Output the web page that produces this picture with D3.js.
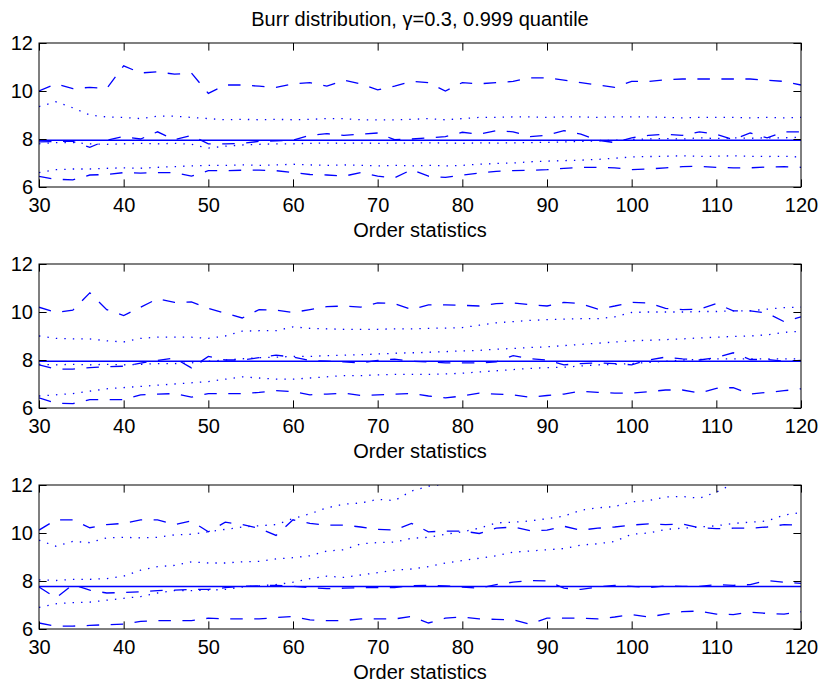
<html>
<head>
    <title>Burr distribution quantile</title>
    <script src="https://d3js.org/d3.v7.min.js"></script>
    <style>
        body { margin:0; background:#fff; }
        text { font-family:"Liberation Sans", Arial, sans-serif; }
    </style>
</head>
<body>
    <svg id="chart" width="823" height="684"></svg>

    <script>
        // order statistics (x axis)
        var orderStat = [30,32,34,36,38, 40,42,44,46,48, 50,52,54,56,58, 60,62,64,66,68,
                         70,72,74,76,78, 80,82,84,86,88, 90,92,94,96,98, 100,102,104,106,108,
                         110,112,114,116,118, 120];

        // true 0.999 quantile for each panel
        var trueQuantile = [7.95, 7.95, 7.77];

        // panel 1
        var p1UpperDash = [10.0,10.3,10.1,10.15,10.1, 11.05,10.75,10.8,10.7,10.75, 9.9,10.25,10.25,10.2,10.15,
                           10.3,10.35,10.2,10.45,10.3, 10.05,10.2,10.4,10.35,10.0, 10.35,10.3,10.35,10.4,10.55,
                           10.55,10.45,10.35,10.25,10.15, 10.4,10.4,10.47,10.5,10.5, 10.5,10.5,10.5,10.45,10.4, 10.25];
        var p1UpperDot = [9.35,9.55,9.3,9.0,8.92, 8.9,8.85,8.95,8.95,8.9, 8.85,8.8,8.82,8.8,8.82,
                          8.8,8.82,8.85,8.85,8.8, 8.8,8.8,8.82,8.85,8.8, 8.85,8.9,8.9,8.92,8.92,
                          8.9,8.92,8.92,8.9,8.92, 8.92,8.92,8.9,8.88,8.9, 8.9,8.9,8.88,8.9,8.88, 8.9];
        var p1MidDash = [7.88,7.9,7.9,7.65,7.95, 8.1,8.0,8.3,7.97,8.15, 7.8,7.8,7.82,7.9,7.92,
                         7.95,8.15,8.22,8.15,8.2, 8.25,7.97,8.0,8.05,8.1, 8.28,8.2,8.35,8.3,8.1,
                         8.15,8.35,8.2,7.95,7.85, 8.05,8.15,8.2,8.15,8.3, 8.2,7.97,8.25,8.05,8.3, 8.3];
        var p1MidDot = [7.8,7.85,7.85,7.8,7.78, 7.8,7.82,7.8,7.82,7.78, 7.62,7.7,7.75,7.78,7.8,
                        7.8,7.82,7.83,7.82,7.83, 7.82,7.83,7.83,7.84,7.83, 7.82,7.84,7.83,7.84,7.85,
                        7.86,7.88,7.9,7.92,7.95, 7.98,8.0,8.02,8.0,8.05, 8.02,8.05,8.03,8.05,8.05, 8.07];
        var p1LowDot = [6.6,6.72,6.75,6.75,6.78, 6.8,6.78,6.82,6.85,6.88, 6.9,6.9,6.92,6.9,6.92,
                        6.95,6.92,6.9,6.92,6.9, 6.88,6.9,6.88,6.9,6.88, 6.9,6.95,6.98,7.0,7.05,
                        7.08,7.1,7.12,7.15,7.2, 7.25,7.27,7.28,7.3,7.28, 7.28,7.3,7.28,7.27,7.28, 7.25];
        var p1LowDash = [6.44,6.32,6.3,6.5,6.52, 6.6,6.58,6.6,6.6,6.45, 6.68,6.68,6.7,6.7,6.68,
                         6.6,6.52,6.5,6.45,6.6, 6.45,6.38,6.72,6.45,6.4, 6.5,6.58,6.65,6.68,6.7,
                         6.72,6.78,6.82,6.82,6.8, 6.72,6.75,6.8,6.85,6.86, 6.82,6.8,6.8,6.83,6.85, 6.82];

        // panel 2
        var p2UpperDash = [10.2,9.98,10.08,10.8,10.1, 9.85,10.2,10.55,10.4,10.42, 10.15,9.95,9.75,10.1,10.08,
                           9.98,10.1,10.22,10.25,10.2, 10.38,10.35,10.1,10.3,10.3, 10.28,10.25,10.35,10.38,10.3,
                           10.25,10.4,10.35,10.12,10.25, 10.4,10.38,10.15,10.1,10.12, 10.35,10.05,10.05,9.95,9.6, 9.8];
        var p2UpperDot = [9.0,8.9,8.88,8.88,8.8, 8.75,8.9,8.95,8.95,8.95, 8.9,9.0,9.2,9.22,9.22,
                          9.38,9.32,9.3,9.28,9.28, 9.28,9.3,9.3,9.32,9.33, 9.35,9.45,9.55,9.6,9.65,
                          9.68,9.7,9.72,9.72,9.8, 9.98,10.0,10.0,10.0,10.02, 10.02,10.05,10.05,10.12,10.18, 10.2];
        var p2MidDash = [7.8,7.62,7.62,7.68,7.72, 7.74,7.87,7.98,8.08,7.67, 8.15,8.0,8.0,8.1,8.2,
                         8.12,7.98,7.95,7.92,7.88, 7.98,8.04,7.95,7.92,7.88, 7.88,7.88,7.92,8.18,8.05,
                         8.0,7.8,7.85,7.88,7.85, 7.8,8.0,8.12,8.05,8.0, 8.1,8.3,8.02,8.02,7.95, 7.98];
        var p2MidDot = [7.82,7.8,7.82,7.8,7.82, 7.8,7.82,7.85,7.85,7.88, 7.95,8.0,8.05,8.1,8.12,
                        8.15,8.15,8.18,8.2,8.22, 8.25,8.28,8.3,8.32,8.35, 8.38,8.4,8.45,8.48,8.52,
                        8.55,8.6,8.65,8.7,8.75, 8.8,8.82,8.85,8.88,8.92, 8.95,8.98,9.0,9.05,9.15, 9.2];
        var p2LowDot = [6.5,6.55,6.6,6.7,6.8, 6.85,6.9,6.95,7.0,7.05, 7.1,7.2,7.3,7.25,7.2,
                        7.2,7.25,7.3,7.35,7.35, 7.38,7.4,7.4,7.4,7.42, 7.45,7.5,7.55,7.6,7.65,
                        7.68,7.7,7.75,7.8,7.82, 7.85,7.9,7.95,8.0,8.02, 8.05,8.05,8.05,8.05,8.05, 8.05];
        var p2LowDash = [6.42,6.2,6.18,6.35,6.35, 6.35,6.55,6.58,6.6,6.45, 6.6,6.6,6.6,6.65,6.72,
                         6.68,6.55,6.58,6.62,6.52, 6.55,6.58,6.6,6.5,6.42, 6.5,6.62,6.58,6.55,6.45,
                         6.52,6.58,6.7,6.65,6.62, 6.62,6.68,6.75,6.75,6.62, 6.82,6.85,6.58,6.65,6.72, 6.8];

        // panel 3
        var p3UpperDash = [10.12,10.55,10.55,10.22,10.35, 10.4,10.55,10.55,10.35,10.5, 10.05,10.45,10.35,10.2,9.9,
                           10.55,10.4,10.33,10.33,10.25, 10.15,10.12,10.4,10.05,10.08, 10.08,9.98,10.2,10.25,10.1,
                           10.12,10.28,10.12,10.2,10.25, 10.33,10.38,10.35,10.38,10.22, 10.18,10.2,10.2,10.25,10.35, 10.33];
        var p3UpperDot = [9.7,9.45,9.65,9.6,9.8, 9.82,9.8,9.82,9.92,9.95, 10.05,10.15,10.25,10.3,10.35,
                          10.6,10.8,11.05,11.2,11.25, 11.4,11.35,11.75,11.95,12.05, 12.2,12.3,12.4,12.5,12.6,
                          12.7,12.8,12.9,13.0,13.1, 13.2,13.3,13.4,13.5,13.6, 13.7,13.8,13.9,14.0,14.1, 14.2];
        var p3MidDot = [8.05,8.02,8.07,8.07,8.1, 8.2,8.45,8.6,8.65,8.8, 8.75,8.75,8.8,8.82,8.92,
                        8.97,9.05,9.25,9.3,9.55, 9.6,9.62,9.78,9.82,9.95, 10.05,10.2,10.42,10.45,10.5,
                        10.6,10.7,10.95,11.05,11.1, 11.3,11.35,11.5,11.52,11.45, 11.7,12.05,12.2,12.3,12.4, 12.5];
        var p3MidDash = [7.75,7.3,7.85,7.62,7.5, 7.52,7.55,7.6,7.62,7.65, 7.65,7.72,7.78,7.8,7.82,
                         7.78,7.72,7.68,7.7,7.72, 7.72,7.73,7.8,7.82,7.8, 7.75,7.7,7.85,7.95,8.02,
                         8.0,7.7,7.65,7.75,7.82, 7.78,7.72,7.8,7.78,7.78, 7.85,7.82,7.85,8.02,7.95, 7.9];
        var p3LowDot = [6.9,7.05,7.1,7.12,7.2, 7.28,7.35,7.5,7.6,7.6, 7.62,7.65,7.75,7.8,7.85,
                        7.95,8.1,8.2,8.15,8.25, 8.35,8.45,8.5,8.6,8.75, 8.85,8.95,9.05,9.2,9.25,
                        9.3,9.35,9.5,9.55,9.65, 9.95,10.0,10.15,10.2,10.25, 10.3,10.4,10.45,10.5,10.75, 10.85];
        var p3LowDash = [6.25,6.12,6.12,6.15,6.18, 6.2,6.32,6.35,6.35,6.35, 6.45,6.42,6.42,6.42,6.48,
                         6.52,6.38,6.35,6.35,6.42, 6.42,6.42,6.52,6.25,6.45, 6.5,6.42,6.4,6.38,6.2,
                         6.45,6.45,6.45,6.42,6.5, 6.6,6.5,6.62,6.72,6.75, 6.62,6.6,6.7,6.65,6.62, 6.72];

        var xTicks = [30,40,50,60,70,80,90,100,110,120];
        var yTicks = [6,8,10,12];

        var panels = [
            { top:43,  truth:trueQuantile[0], dashed:[p1UpperDash,p1MidDash,p1LowDash], dotted:[p1UpperDot,p1MidDot,p1LowDot] },
            { top:264, truth:trueQuantile[1], dashed:[p2UpperDash,p2MidDash,p2LowDash], dotted:[p2UpperDot,p2MidDot,p2LowDot] },
            { top:485, truth:trueQuantile[2], dashed:[p3UpperDash,p3MidDash,p3LowDash], dotted:[p3UpperDot,p3MidDot,p3LowDot] }
        ];

        var svg = d3.select("#chart");
        var left = 39, right = 801, h = 144, tick = 7.6;
        var blue = "#0000ff";

        svg.append("text")
            .attr("x", 420)
            .attr("y", 26)
            .attr("text-anchor", "middle")
            .style("font-size", "20px")
            .text("Burr distribution, \u03b3=0.3, 0.999 quantile");

        var x = d3.scaleLinear().domain([30,120]).range([left,right]);

        panels.forEach(function(p, i){
            var y = d3.scaleLinear().domain([6,12]).range([p.top + h, p.top]);
            var g = svg.append("g");

            g.append("clipPath").attr("id", "clip" + i)
                .append("rect")
                .attr("x", left).attr("y", p.top)
                .attr("width", right - left).attr("height", h);

            var line = d3.line()
                .x(function(d, j){ return x(orderStat[j]); })
                .y(function(d){ return y(d); });

            var lines = g.append("g").attr("clip-path", "url(#clip" + i + ")");

            p.dotted.forEach(function(s){
                lines.append("path").datum(s)
                    .attr("d", line)
                    .attr("fill", "none")
                    .attr("stroke", blue)
                    .attr("stroke-width", 1.3)
                    .attr("stroke-dasharray", "1.4,7.1");
            });
            p.dashed.forEach(function(s){
                lines.append("path").datum(s)
                    .attr("d", line)
                    .attr("fill", "none")
                    .attr("stroke", blue)
                    .attr("stroke-width", 1.3)
                    .attr("stroke-dasharray", "12.5,11.5");
            });
            lines.append("path").datum(orderStat.map(function(){ return p.truth; }))
                .attr("d", line)
                .attr("fill", "none")
                .attr("stroke", blue)
                .attr("stroke-width", 1.5);

            // axes, ticks point inwards and are mirrored on top/right
            var xb = g.append("g").attr("transform", "translate(0," + (p.top + h) + ")")
                .call(d3.axisBottom(x).tickValues(xTicks).tickSizeInner(-tick).tickSizeOuter(0).tickPadding(11));
            var xt = g.append("g").attr("transform", "translate(0," + p.top + ")")
                .call(d3.axisTop(x).tickValues(xTicks).tickSizeInner(-tick).tickSizeOuter(0).tickFormat(""));
            var yl = g.append("g").attr("transform", "translate(" + left + ",0)")
                .call(d3.axisLeft(y).tickValues(yTicks).tickFormat(d3.format("d"))
                    .tickSizeInner(-tick).tickSizeOuter(0).tickPadding(6));
            var yr = g.append("g").attr("transform", "translate(" + right + ",0)")
                .call(d3.axisRight(y).tickValues(yTicks).tickSizeInner(-tick).tickSizeOuter(0).tickFormat(""));

            [xb, xt, yl, yr].forEach(function(a){
                a.select(".domain").remove();
                a.selectAll("line").attr("stroke", "#000");
                a.selectAll("text")
                    .attr("fill", "#000")
                    .style("font-size", "20px")
                    .style("font-family", "'Liberation Sans', Arial, sans-serif");
            });

            g.append("rect")
                .attr("x", left).attr("y", p.top)
                .attr("width", right - left).attr("height", h)
                .attr("fill", "none")
                .attr("stroke", "#000")
                .attr("stroke-width", 1);

            g.append("text")
                .attr("x", 420)
                .attr("y", p.top + h + 50)
                .attr("text-anchor", "middle")
                .style("font-size", "20px")
                .text("Order statistics");
        });
    </script>
</body>
</html>
